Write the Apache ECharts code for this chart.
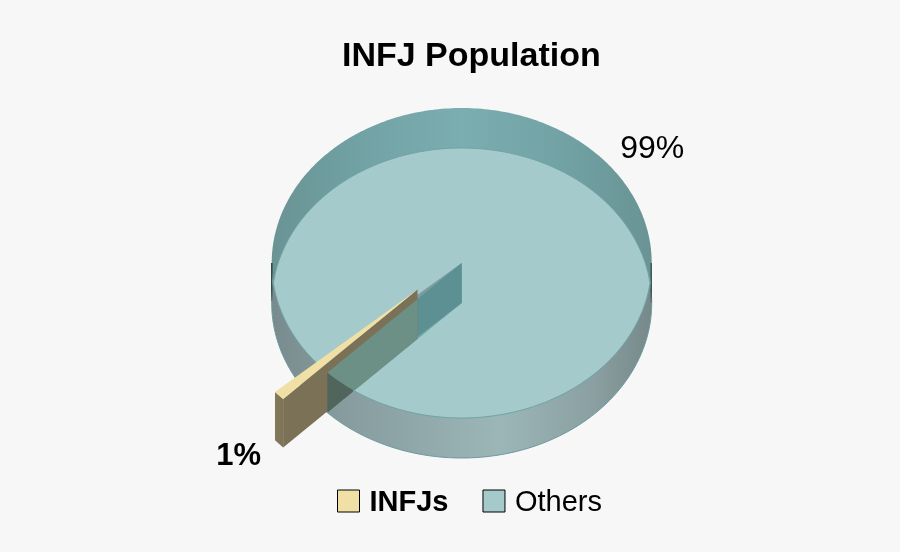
<!DOCTYPE html>
<html><head><meta charset="utf-8">
<style>html,body{margin:0;padding:0;background:#f7f7f7}#c{width:900px;height:552px}</style>
<script src="https://cdn.jsdelivr.net/npm/echarts@6/dist/echarts.min.js"></script>
</head><body><div id="c"></div>
<script>
const categories = ['INFJs', 'Others'];
const values = [1, 99];
const titleText = 'INFJ Population';
const colors = ['#F0E0A5', '#A5CACB'];

const cx = 461.7, cyTop = 263, cyBot = 303, rx = 190, ry = 155, rotation = 225;
const explodeX = -44.2, explodeY = 26.4, sliceDepth = 48.4;
const total = values.reduce((a, b) => a + b, 0);
const a0 = rotation, a1 = rotation + values[0] / total * 360;

const rad = d => d * Math.PI / 180;
const pt = (deg, cy) => [cx + rx * Math.sin(rad(deg)), cy - ry * Math.cos(rad(deg))];
const ellipse = cy => { const o = []; for (let d = 0; d < 360; d += 1) o.push(pt(d, cy)); return o; };
const grad = (...cs) => ({ type: 'linear', x: 0, y: 0, x2: 1, y2: 0, colorStops: cs.map(c => ({ offset: c[0], color: c[1] })) });
const vgrad = (...cs) => ({ type: 'linear', x: 0, y: 0, x2: 0, y2: 1, colorStops: cs.map(c => ({ offset: c[0], color: c[1] })) });
const poly = (points, fill, z2, stroke, lw) => ({ type: 'polygon', z2, silent: true, shape: { points }, style: { fill, stroke: stroke || null, lineWidth: lw || 0 } });
const edgeY = x => cyTop + ry * Math.sqrt(Math.max(0, 1 - ((x - cx) / rx) ** 2));

function lens() {
  const half = rx * Math.sqrt(1 - ((cyBot - cyTop) / 2 / ry) ** 2), p = [];
  for (let i = 0; i <= 200; i++) { const x = cx + half - 2 * half * i / 200; p.push([x, edgeY(x)]); }
  for (let i = 0; i <= 200; i++) { const x = cx - half + 2 * half * i / 200; p.push([x, cyBot - ry * Math.sqrt(1 - ((x - cx) / rx) ** 2)]); }
  return p;
}

function renderOthers(params, api) {
  const share = api.value(0) / total;
  const A = pt(a0, cyTop), B = pt(a1, cyTop), Ab = pt(a0, cyBot), Bb = pt(a1, cyBot);
  const C = [cx, cyTop], Cb = [cx, cyBot];
  const tipX = cx + explodeX;
  const slopeA = (A[1] - C[1]) / (A[0] - C[0]);
  const topA = x => cyTop + slopeA * (x - cx), botA = x => cyBot + slopeA * (x - cx);
  const inside = [], outside = [], lo = [];
  const n = 60;
  for (let i = 0; i <= n; i++) { const x = tipX + (A[0] - tipX) * i / n; inside.push([x, topA(x)]); }
  for (let i = n; i >= 0; i--) { const x = tipX + (A[0] - tipX) * i / n; inside.push([x, Math.min(botA(x), edgeY(x))]); }
  for (let i = 0; i <= n; i++) { const x = tipX + (A[0] - tipX) * i / n; if (edgeY(x) < botA(x)) { outside.push([x, edgeY(x)]); lo.unshift([x, botA(x)]); } }
  const midAngle = (a1 + a0 + 360) / 2;
  const lp = pt(midAngle, cyTop);
  return { type: 'group', children: [
    poly(ellipse(cyBot), grad([0, '#788A8D'], [0.15, '#84999B'], [0.6, '#9CB6B8'], [0.85, '#8A9FA1'], [1, '#76888A']), 1, '#6C9A9B', 1),
    poly(ellipse(cyTop), grad([0, '#6A9394'], [0.2, '#70A0A2'], [0.5, '#7BAEB1'], [0.8, '#70A0A2'], [1, '#6A9394']), 3),
    { type: 'rect', z2: 3.5, silent: true, shape: { x: cx - rx - 0.7, y: cyTop, width: 1.6, height: cyBot - cyTop - 2 }, style: { fill: vgrad([0, '#33474A'], [0.7, '#3C4A4C'], [1, '#6C7A7C']) } },
    { type: 'rect', z2: 3.5, silent: true, shape: { x: cx + rx - 1.3, y: cyTop, width: 1.6, height: cyBot - cyTop }, style: { fill: vgrad([0, '#3F5F60'], [0.7, '#3F5456'], [1, '#6C7A7C']) } },
    poly(lens(), colors[1], 4, '#6FA3A5', 1),
    poly([C, B, Bb, Cb], '#7C9C9E', 5),
    poly([C, A, Ab, Cb], '#6FA7AA', 6),
    poly([C, A, [A[0], cyBot + slopeA * (A[0] - cx) - (Ab[1] - Bb[1])], Cb], '#5C9093', 7),
    poly(inside, '#6C9085', 20),
    outside.length > 2 ? poly(outside.concat(lo), '#50655B', 20) : null,
    { type: 'text', z2: 30, silent: true, x: lp[0] + 20, y: lp[1] - 8,
      style: { text: Math.round(share * 100) + '%', font: '32px "Liberation Sans"', fill: '#000', align: 'left', verticalAlign: 'middle' } }
  ].filter(Boolean) };
}

function renderINFJ(params, api) {
  const share = api.value(0) / total;
  const e = a1 - share * 360;
  const c = [cx + explodeX, cyTop + explodeY];
  const off = p => [p[0] + explodeX, p[1] + explodeY];
  const A = off(pt(e, cyTop)), B = off(pt(a1, cyTop));
  const Ab = [A[0], A[1] + sliceDepth], Bb = [B[0], B[1] + sliceDepth];
  const cb = [c[0], c[1] + sliceDepth];
  const mid = pt((e + a1) / 2, cyTop);
  return { type: 'group', children: [
    poly([c, A, Ab, cb], '#7A7156', 10),
    poly([B, A, Ab, Bb], grad([0, '#85795B'], [1, '#7D7357']), 11),
    poly([c, B, A], colors[0], 12),
    { type: 'text', z2: 30, silent: true, x: mid[0] + explodeX - 18, y: mid[1] + explodeY + 60.5,
      style: { text: Math.round(share * 100) + '%', font: 'bold 31px "Liberation Sans"', fill: '#000', align: 'right', verticalAlign: 'middle' } }
  ] };
}

const chart = echarts.init(document.getElementById('c'), null, { renderer: 'canvas' });
chart.setOption({
  animation: false,
  backgroundColor: '#f7f7f7',
  title: { text: titleText, left: 337, top: 35, textStyle: { fontFamily: 'Liberation Sans', fontSize: 34, fontWeight: 'bold', color: '#000' } },
  legend: {
    left: 332, top: 483.5, itemWidth: 22, itemHeight: 22, itemGap: 34, selectedMode: false,
    data: [
      { name: categories[0], icon: 'rect', itemStyle: { color: colors[0], borderColor: '#000', borderWidth: 1 } },
      { name: categories[1], icon: 'rect', itemStyle: { color: colors[1], borderColor: '#000', borderWidth: 1 } }
    ],
    formatter: n => n === categories[0] ? '{b|' + n + '}' : '{n|' + n + '}',
    textStyle: { rich: {
      b: { fontFamily: 'Liberation Sans', fontSize: 29, fontWeight: 'bold', color: '#000', padding: [4, 0, 0, 5] },
      n: { fontFamily: 'Liberation Sans', fontSize: 29, color: '#000', padding: [4, 0, 0, 5] }
    } }
  },
  series: [
    { type: 'custom', name: categories[1], coordinateSystem: 'none', data: [[values[1]]], renderItem: renderOthers, silent: true, z: 2 },
    { type: 'custom', name: categories[0], coordinateSystem: 'none', data: [[values[0]]], renderItem: renderINFJ, silent: true, z: 2 }
  ]
});
</script></body></html>
